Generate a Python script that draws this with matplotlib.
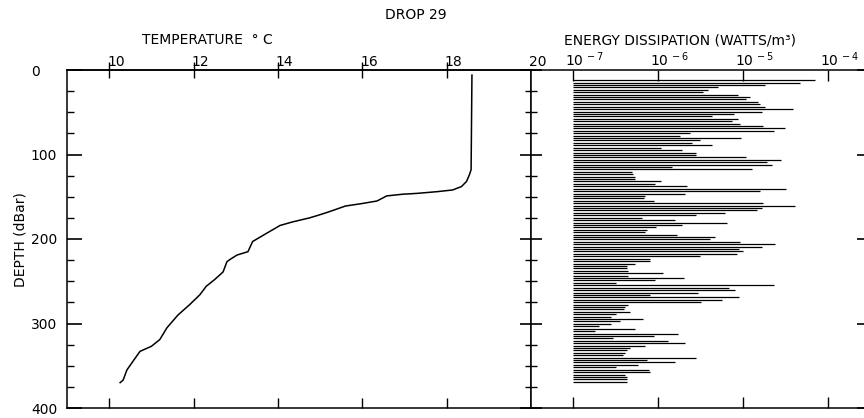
import numpy as np
import matplotlib
matplotlib.use("Agg")
import matplotlib.pyplot as plt
from matplotlib import ticker, transforms

plt.rcParams['font.family'] = ['DejaVu Sans']
plt.rcParams['font.size'] = 10

# Temperature profile (deg C vs depth in dBar)
temp_depth = [6, 118, 124, 132, 138, 142, 144, 146, 147, 149, 155, 158, 161, 168, 172, 175,
              180, 184, 193, 203, 215, 219, 224, 227, 239, 248, 256, 266, 278, 290, 305,
              319, 327, 333, 345, 355, 367, 370]
temp_c = [18.6, 18.58, 18.54, 18.47, 18.35, 18.14, 17.77, 17.3, 16.96, 16.58, 16.35, 16.0,
          15.6, 15.2, 14.95, 14.75, 14.33, 14.05, 13.74, 13.4, 13.29, 13.03, 12.87, 12.79,
          12.7, 12.5, 12.3, 12.15, 11.9, 11.63, 11.37, 11.2, 11.0, 10.73, 10.56, 10.42,
          10.33, 10.26]

# Energy dissipation, log10(W/m^3), one value per depth bin from top to bottom
eps_log10 = [
    -4.15, -4.33, -4.74, -5.29, -5.41, -5.47, -5.06, -4.92, -4.96, -4.82,
    -4.80, -4.74, -4.41, -4.78, -5.11, -5.37, -5.06, -5.13, -5.04, -4.76,
    -4.51, -4.64, -5.62, -5.74, -5.02, -5.51, -5.60, -5.37, -5.96,
    -5.72, -5.55, -5.55, -4.96, -4.55, -4.72, -4.66, -5.84, -4.90, -6.31,
    -6.29, -6.27, -6.27, -5.96, -6.04, -5.66, -4.49, -4.80, -5.68, -6.15,
    -6.16, -6.05, -4.76, -4.39, -4.78, -4.84, -5.21, -5.55, -6.19, -5.80,
    -5.19, -5.72, -6.02,
    -6.13, -6.15, -5.78, -5.33, -5.39, -5.04, -4.62, -4.78, -5.05, -5.00,
    -5.07, -5.51, -6.09, -6.09, -6.27, -6.37, -6.37, -6.35, -5.94, -6.35,
    -5.70, -6.04, -6.49, -4.64, -5.17, -5.10, -5.53, -6.09, -5.05, -5.25,
    -5.49, -6.35,
    -6.39, -6.40, -6.33, -6.49, -6.55, -6.18, -6.45, -6.55, -6.70, -6.27,
    -6.74, -5.76, -6.05, -6.53, -5.88, -5.68, -6.15, -6.33, -6.37, -6.39,
    -6.41, -5.55, -6.13, -5.80, -6.23, -6.49, -6.11, -6.09, -6.39, -6.37,
    -6.37, -6.37,
]
eps_top, eps_bottom = 12, 369  # depth of first and last bin (dBar)

temp_ticks = [10, 12, 14, 16, 18]
eps_ticks = [-7, -6, -5, -4]
depth_ticks = [0, 100, 200, 300, 400]

W, H = 864, 418
fig = plt.figure(figsize=(W / 100, H / 100), dpi=100)

y0, y1 = 70, 408
x_left, x_mid, x_right = 67, 531, 868
ax = fig.add_axes([x_left / W, 1 - y1 / H, (x_mid - x_left) / W, (y1 - y0) / H])
ax2 = fig.add_axes([x_mid / W, 1 - y1 / H, (x_right - x_mid) / W, (y1 - y0) / H], sharey=ax)

# --- temperature panel
ax.plot(temp_c, temp_depth, color='black', lw=1.1)
ax.set_xlim(9, 20)
ax.set_ylim(400, 0)
ax.set_yticks(depth_ticks)
ax.yaxis.set_minor_locator(ticker.MultipleLocator(25))
ax.tick_params(axis='y', which='major', direction='in', length=11, width=1.2,
               left=True, right=False, pad=26)
ax.tick_params(axis='y', which='minor', direction='in', length=5, width=1.0,
               left=True, right=False)
for lab in ax.get_yticklabels():
    lab.set_horizontalalignment('left')
ax.set_xticks(temp_ticks)
ax.set_xticklabels([])
ax.tick_params(axis='x', direction='in', length=7, width=1.0, top=False, bottom=True)
sec = ax.secondary_xaxis('top')
sec.set_xticks(temp_ticks)
sec.set_xticklabels([])
sec.tick_params(direction='inout', length=12, width=1.0)
for s in ax.spines.values():
    s.set_linewidth(1.1)
for s in sec.spines.values():
    s.set_linewidth(1.1)

off = transforms.offset_copy(ax.get_xaxis_transform(), fig=fig, x=-2, y=1, units='dots')
for t in temp_ticks + [20]:
    ax.text(t, 1.0, str(t), transform=off, ha='left', va='bottom', fontsize=10)

# --- dissipation panel
eps_depth = np.linspace(eps_top, eps_bottom, len(eps_log10))
eps_vals = 10.0 ** np.array(eps_log10)
ax2.hlines(eps_depth, 1e-7, eps_vals, color='black', lw=0.9)
ax2.set_xscale('log')
ax2.set_xlim(10 ** -7.494, 10 ** -3.53)
ax2.set_xticks([10.0 ** k for k in eps_ticks])
ax2.xaxis.set_minor_locator(ticker.NullLocator())
ax2.set_xticklabels([])
ax2.tick_params(axis='x', direction='in', length=8, width=1.0, top=True, bottom=True)
ax2.tick_params(axis='y', which='major', direction='inout', length=16, width=1.2,
                left=True, right=True, labelleft=False)
ax2.tick_params(axis='y', which='minor', direction='inout', length=9, width=1.0,
                left=True, right=False)
ax2.spines['right'].set_visible(False)
for s in ax2.spines.values():
    s.set_linewidth(1.1)

off2 = transforms.offset_copy(ax2.get_xaxis_transform(), fig=fig, x=-8, y=1, units='dots')
for k in eps_ticks:
    ax2.text(10.0 ** k, 1.0, r'$\mathregular{10^{\,%d}}$' % k, transform=off2,
             ha='left', va='bottom', fontsize=10)

# --- titles
fig.text(416 / W, 1 - 15 / H, 'DROP 29', ha='center', va='center', fontsize=10)
fig.text(207 / W, 1 - 40 / H, 'TEMPERATURE  \u00b0 C', ha='center', va='center', fontsize=10)
fig.text(680 / W, 1 - 40 / H, 'ENERGY DISSIPATION (WATTS/m\u00b3)', ha='center',
         va='center', fontsize=10)
fig.text(21 / W, 1 - 240 / H, 'DEPTH (dBar)', ha='center', va='center', rotation=90,
         fontsize=10)

fig.savefig('out.png', dpi=100)
